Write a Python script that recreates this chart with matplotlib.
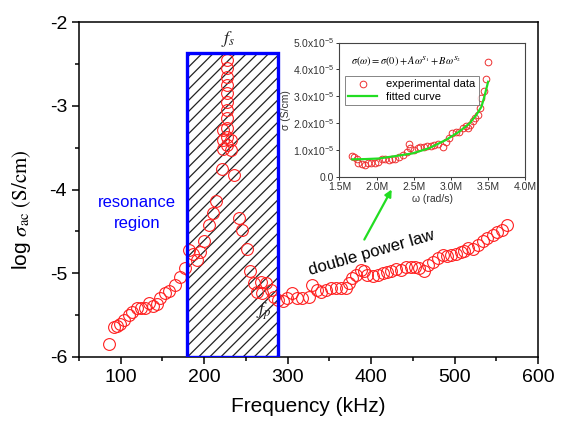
import numpy as np
import matplotlib.pyplot as plt
from matplotlib.patches import Rectangle
from matplotlib.ticker import MultipleLocator, FuncFormatter

plt.rcParams['font.family'] = ['Liberation Sans', 'DejaVu Sans']
plt.rcParams['mathtext.fontset'] = 'custom'
plt.rcParams['mathtext.rm'] = 'Liberation Sans'
plt.rcParams['mathtext.it'] = 'Liberation Sans:italic'
plt.rcParams['axes.unicode_minus'] = False
plt.rcParams['hatch.linewidth'] = 0.9

# log conductivity vs frequency (kHz)
freq = [86, 91.6, 95.6, 99.6, 104.4, 109.6, 114, 119.6, 124.6, 129.6,
        133.6, 138.8, 143.6, 147.6, 153.6, 157.6, 165.6, 171.6, 176.8, 181.6,
        186.8, 191.6, 195.6, 200.4, 205.6, 210.4, 214.6, 221.2,
        227.6, 227.6, 227.6, 227.6, 227.6, 227.6, 227.6, 227.6, 227.6, 227.6, 227.6,
        222.8, 222.8, 222.8, 232.4, 232.4, 235.6,
        241.6, 245.6, 250.8, 254.8, 259.6, 263.6, 267.6, 269.6, 273.6, 279.6,
        283.6, 288, 294, 299, 305.6, 311.6, 317.6, 325.6, 329.6, 335.6,
        339.6, 345.6, 351.6, 357.6, 363.6, 369.6, 373.6, 377.6, 381.6, 387.6,
        391.6, 395.6, 401.6, 407.6, 413.6, 418.6, 423.6, 429.6, 435.6, 441.6,
        447.6, 452.6, 457.6, 463.6, 467.6, 473.6, 479.6, 485.6, 490.6, 495.6,
        501.6, 507.6, 511.6, 515.6, 521.6, 527.6, 533.6, 538.6, 545.6, 550.6,
        556.8, 562.4]
log_sigma = [-5.84, -5.64, -5.63, -5.60, -5.56, -5.50, -5.46, -5.42, -5.42, -5.42,
             -5.36, -5.39, -5.37, -5.30, -5.24, -5.21, -5.14, -5.04, -4.94, -4.72,
             -4.77, -4.84, -4.74, -4.61, -4.42, -4.28, -4.14, -3.75,
             -2.45, -2.55, -2.65, -2.75, -2.85, -2.95, -3.05, -3.15, -3.27, -3.37, -3.47,
             -3.29, -3.41, -3.51, -3.41, -3.53, -3.83,
             -4.34, -4.48, -4.71, -4.97, -5.12, -5.22, -5.10, -5.24, -5.12, -5.20,
             -5.28, -5.32, -5.33, -5.30, -5.24, -5.30, -5.30, -5.28, -5.14, -5.20,
             -5.22, -5.20, -5.18, -5.18, -5.17, -5.18, -5.12, -5.06, -5.02, -4.96,
             -4.97, -5.02, -5.03, -5.02, -5.00, -4.98, -4.97, -4.95, -4.96, -4.93,
             -4.93, -4.93, -4.94, -4.97, -4.90, -4.86, -4.82, -4.78, -4.79, -4.78,
             -4.77, -4.75, -4.73, -4.70, -4.71, -4.66, -4.62, -4.58, -4.54, -4.51,
             -4.48, -4.42]

# inset: sigma (1e-5 S/cm) vs omega (M rad/s)
omega = [1.67, 1.70, 1.73, 1.75, 1.80, 1.84, 1.89, 1.93, 1.98, 2.02,
         2.07, 2.11, 2.16, 2.20, 2.25, 2.30, 2.36, 2.41, 2.43, 2.45,
         2.50, 2.55, 2.59, 2.64, 2.68, 2.73, 2.77, 2.83, 2.89, 2.93,
         2.98, 3.02, 3.07, 3.11, 3.16, 3.20, 3.23, 3.25, 3.29, 3.32,
         3.36, 3.39, 3.41, 3.44, 3.47, 3.50]
sigma = [0.77, 0.75, 0.68, 0.50, 0.46, 0.44, 0.50, 0.50, 0.50, 0.56,
         0.65, 0.68, 0.62, 0.65, 0.68, 0.75, 0.81, 0.93, 1.22, 1.06,
         1.00, 1.06, 1.12, 1.12, 1.14, 1.14, 1.18, 1.22, 1.12, 1.31,
         1.43, 1.62, 1.68, 1.68, 1.80, 1.89, 1.80, 1.93, 2.09, 2.18,
         2.30, 2.55, 2.92, 3.21, 3.63, 4.29]
fit_omega = [1.67, 1.85, 2.02, 2.25, 2.48, 2.70, 2.93, 3.11, 3.25, 3.34, 3.41, 3.45, 3.50]
fit_sigma = [0.65, 0.66, 0.68, 0.77, 0.87, 1.06, 1.37, 1.68, 1.99, 2.30, 2.61, 2.99, 3.54]

fig = plt.figure(figsize=(5.63, 4.26), dpi=100)
ax = fig.add_axes([0.140, 0.162, 0.816, 0.786])

# resonance window
ax.add_patch(Rectangle((180, -6), 108, 3.635, facecolor='none', edgecolor='#222222',
                       hatch='///', linewidth=0, zorder=1))
ax.add_patch(Rectangle((180, -6), 108, 3.635, facecolor='none', edgecolor='#0000ff',
                       linewidth=2.4, zorder=3))

ax.plot(freq, log_sigma, 'o', mfc='none', mec='#ff2020', ms=8.5, mew=0.8, zorder=2)

ax.set_xlim(50, 600)
ax.set_ylim(-6, -2)
ax.xaxis.set_major_locator(MultipleLocator(100))
ax.xaxis.set_minor_locator(MultipleLocator(50))
ax.yaxis.set_major_locator(MultipleLocator(1))
ax.yaxis.set_minor_locator(MultipleLocator(0.5))
ax.tick_params(which='both', direction='out', top=False, right=False, labelsize=14, width=1.1)
ax.tick_params(which='major', length=5)
ax.tick_params(which='minor', length=3)
for s in ax.spines.values():
    s.set_linewidth(1.1)
ax.set_xlabel('Frequency (kHz)', fontsize=15, labelpad=8)
ax.set_ylabel(r'log $\sigma_{\rm ac}\ \mathrm{(S/cm)}$', fontsize=15,
              math_fontfamily='stix')
ax.yaxis.set_label_coords(-0.10, 0.44)

ax.text(120, -4.16, 'resonance', color='#0000ff', fontsize=12, ha='center', va='center')
ax.text(120, -4.40, 'region', color='#0000ff', fontsize=12, ha='center', va='center')
ax.text(229, -2.2, '$f_s$', fontsize=13, ha='center', va='center', color='#222222',
        math_fontfamily='stix')
ax.text(271, -5.45, '$f_p$', fontsize=13, ha='center', va='center', color='#222222',
        math_fontfamily='stix')
ax.text(400, -4.76, 'double power law', fontsize=12, rotation=16,
        ha='center', va='center', zorder=4)

# inset
ins = fig.add_axes([0.603, 0.585, 0.330, 0.315])
ins.set_facecolor('white')
ins.plot(omega, sigma, 'o', mfc='none', mec='#ee3030', ms=4.8, mew=0.7,
         label='experimental data')
ins.plot(fit_omega, fit_sigma, '-', color='#22dd22', lw=1.6, label='fitted curve')
ins.set_xlim(1.5, 4.0)
ins.set_ylim(0, 5.0)
ins.xaxis.set_major_locator(MultipleLocator(0.5))
ins.yaxis.set_major_locator(MultipleLocator(1.0))
ins.xaxis.set_major_formatter(FuncFormatter(lambda v, p: f'{v:.1f}M'))
ins.yaxis.set_major_formatter(FuncFormatter(
    lambda v, p: '0.0' if abs(v) < 1e-9 else f'{v:.1f}x10$^{{-5}}$'))
ins.tick_params(direction='out', length=2.5, width=0.7, labelsize=7.5, pad=1.5,
                colors='#333333')
for s in ins.spines.values():
    s.set_linewidth(0.8)
    s.set_color('#444444')
ins.set_xlabel('ω (rad/s)', fontsize=7.5, labelpad=1, color='#333333')
ins.set_ylabel('σ (S/cm)', fontsize=7.5, labelpad=1, color='#333333')
ins.text(0.06, 0.86, r'$\sigma(\omega) = \sigma(0) + A\omega^{S_1} + B\omega^{S_2}$',
         transform=ins.transAxes, fontsize=7.5, math_fontfamily='stix',
         va='center', ha='left')
leg = ins.legend(loc='upper left', bbox_to_anchor=(0.03, 0.75), fontsize=8,
                 frameon=True, fancybox=False, borderpad=0.3, handlelength=2.6,
                 labelspacing=0.2, borderaxespad=0)
leg.get_frame().set_edgecolor('#666666')
leg.get_frame().set_linewidth(0.7)

# pointer from the text to the inset
fig.add_artist(plt.Annotation('', xy=(393 / 563, 1 - 187 / 426),
                              xytext=(363 / 563, 1 - 242 / 426),
                              xycoords='figure fraction', textcoords='figure fraction',
                              arrowprops=dict(arrowstyle='-|>', color='#22dd22', lw=1.6,
                                              mutation_scale=10)))

fig.savefig('out.png', dpi=100)
